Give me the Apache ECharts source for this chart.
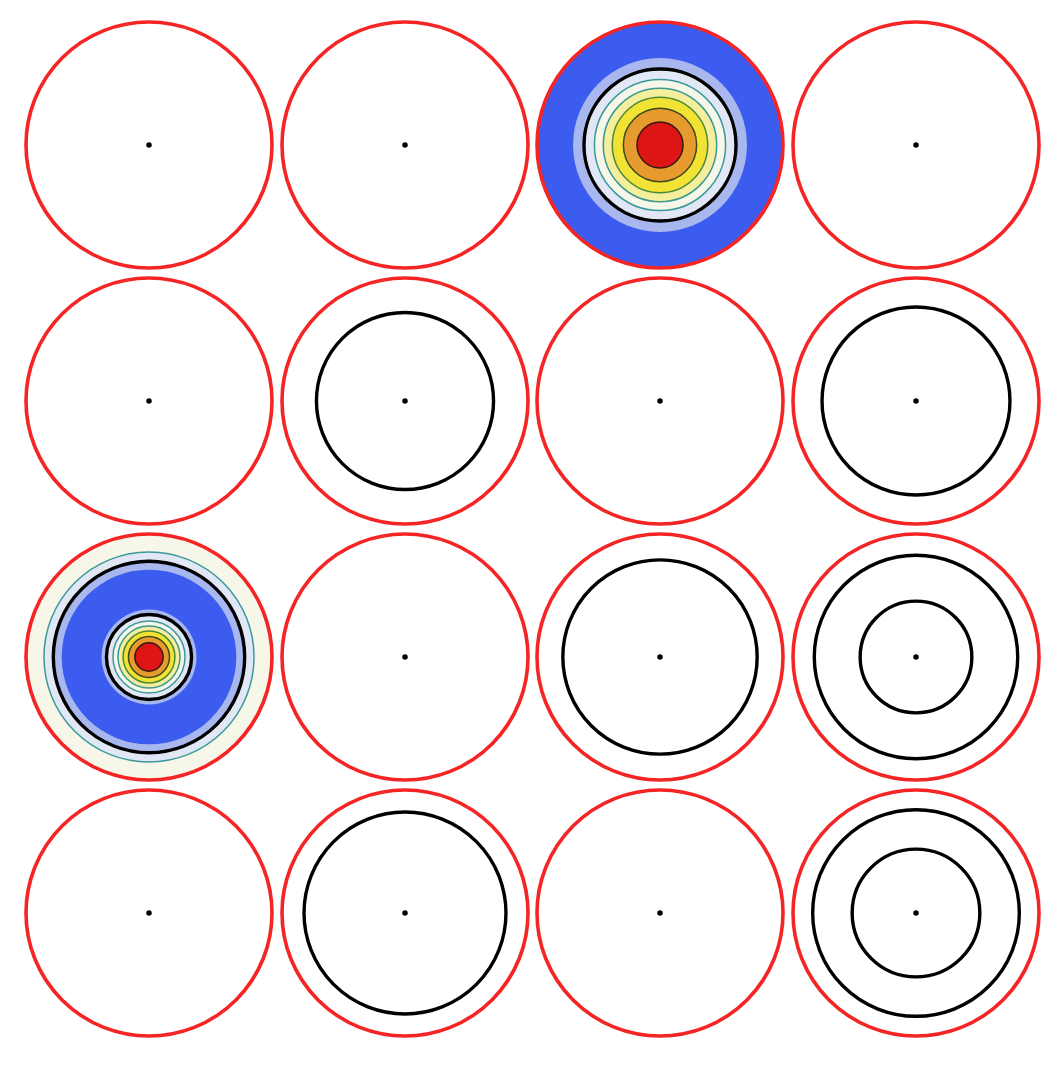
<!DOCTYPE html>
<html>
<head>
<meta charset="utf-8">
<script src="https://cdn.jsdelivr.net/npm/echarts@6/dist/echarts.min.js"></script>
<style>html,body{margin:0;padding:0;background:#fff;}#c{width:1064px;height:1065px;}</style>
</head>
<body>
<div id="c"></div>
<script>
// ---- data (radii normalised to the plate boundary, r = 1) ----
const panelCount = 16;
const boundaryRadius = 1.0;
// nodal circles (black) per panel, row by row
const nodalRadii = [
  [], [], [0.618], [],
  [], [0.72], [], [0.764],
  [0.778, 0.346], [], [0.79], [0.827, 0.454],
  [], [0.821], [], [0.84, 0.519]
];
// filled contour bands: [outer radius, contour level index]
const contourBandsPanel3 = [
  [1.0, 0], [0.707, 1], [0.618, 2], [0.533, 3], [0.461, 4], [0.388, 5], [0.298, 6], [0.187, 7]
];
const contourBandsPanel9 = [
  [1.0, 3], [0.854, 2], [0.778, 1], [0.71, 0], [0.386, 1], [0.346, 2],
  [0.293, 3], [0.252, 4], [0.211, 5], [0.167, 6], [0.115, 7]
];
const centerPoint = [0, 0];

// ---- styles ----
const levelColors = ['#3b5cef', '#a8b8ef', '#e1e7f5', '#f7f7e9', '#f5ee9c', '#f2e234', '#e79a2e', '#dd1515'];
const levelLineColors = [null, null, null, '#3a9a9a', '#3a9a90', '#4b8a3a', '#3c4a1a', '#331a10'];
const colX = [149, 405, 660, 916];
const rowY = [145, 401, 657, 913];
const plateRadiusPx = 123;

const polar = [], angleAxis = [], radiusAxis = [], series = [];
const filled = {2: contourBandsPanel3, 8: contourBandsPanel9};

for (let i = 0; i < panelCount; i++) {
  const cx = colX[i % 4], cy = rowY[Math.floor(i / 4)];
  polar.push({center: [cx, cy], radius: plateRadiusPx});
  angleAxis.push({polarIndex: i, type: 'category', data: ['plate'], show: false,
    axisLine: {show: false}, splitLine: {show: false}, axisTick: {show: false}, axisLabel: {show: false}});
  radiusAxis.push({polarIndex: i, type: 'value', min: 0, max: boundaryRadius, show: false,
    axisLine: {show: false}, splitLine: {show: false}, axisTick: {show: false}, axisLabel: {show: false}});

  const barBase = {type: 'bar', coordinateSystem: 'polar', polarIndex: i, barGap: '-100%',
    barCategoryGap: '0%', silent: true, animation: false};

  // centre point
  series.push({type: 'scatter', coordinateSystem: 'polar', polarIndex: i, z: 1,
    data: [centerPoint], symbolSize: 5.5, itemStyle: {color: '#000', opacity: 1}, silent: true, animation: false});

  // filled contour discs, largest first
  if (filled[i]) {
    const bands = filled[i];
    bands.forEach((b, k) => {
      const parent = k > 0 ? bands[k - 1][1] : b[1];
      const lc = levelLineColors[Math.max(parent, b[1])];
      series.push(Object.assign({}, barBase, {z: 2, data: [b[0]],
        itemStyle: {color: levelColors[b[1]], borderColor: lc || 'transparent', borderWidth: lc ? 1.5 : 0}}));
    });
  }
  // nodal circles
  nodalRadii[i].forEach(r => {
    series.push(Object.assign({}, barBase, {z: 3, data: [r],
      itemStyle: {color: 'transparent', borderColor: '#000', borderWidth: 3.4}}));
  });
  // plate boundary
  series.push(Object.assign({}, barBase, {z: 4, data: [boundaryRadius],
    itemStyle: {color: 'transparent', borderColor: '#f52525', borderWidth: 3.6}}));
}

const chart = echarts.init(document.getElementById('c'), null, {renderer: 'canvas'});
chart.setOption({backgroundColor: '#fff', animation: false, polar, angleAxis, radiusAxis, series});
</script>
</body>
</html>
